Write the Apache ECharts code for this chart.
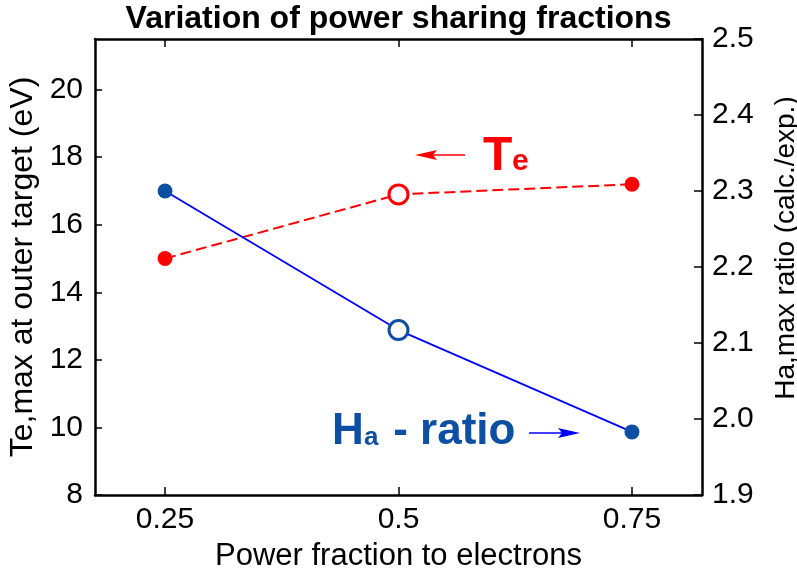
<!DOCTYPE html>
<html>
<head>
<meta charset="utf-8">
<script src="https://cdn.jsdelivr.net/npm/echarts@6/dist/echarts.min.js"></script>
<style>html,body{margin:0;padding:0;background:#fff}#c{width:797px;height:574px}</style>
</head>
<body>
<div id="c"></div>
<script>
const xValues = [0.25, 0.5, 0.75];
const teValues = [15.0, 16.9, 17.2];
const haValues = [2.30, 2.117, 1.983];
const xTicks = [0.25, 0.5, 0.75];
const leftTicks = [8, 10, 12, 14, 16, 18, 20];
const rightTicks = [1.9, 2.0, 2.1, 2.2, 2.3, 2.4, 2.5];
const hollowIndex = 1;

const RED = '#ff0000';
const BLUE_LINE = '#0000ff';
const BLUE_MARK = '#0d4fa3';
const FONT = 'Liberation Sans, Arial, sans-serif';

function pts(vals, color) {
  return xValues.map((x, i) => {
    const hollow = i === hollowIndex;
    return {
      value: [x, vals[i]],
      symbolSize: hollow ? 19 : 15,
      itemStyle: hollow
        ? { color: '#fff', borderColor: color, borderWidth: 3 }
        : { color: color, borderWidth: 0 }
    };
  });
}

const chart = echarts.init(document.getElementById('c'));
const axisLine = { show: true, lineStyle: { color: '#000', width: 2.5 } };
const tickStyle = { color: '#000', width: 1.5 };
chart.setOption({
  animation: false,
  title: {
    text: 'Variation of power sharing fractions',
    left: 'center', top: 3, padding: 0,
    textStyle: { fontFamily: FONT, fontWeight: 'bold', fontSize: 32, color: '#000' }
  },
  grid: { left: 95, right: 95, top: 39, bottom: 79, containLabel: false, outerBoundsMode: 'none' },
  xAxis: [{
    type: 'value', min: 0.175, max: 0.825, position: 'bottom',
    name: 'Power fraction to electrons', nameLocation: 'middle', nameGap: 46,
    nameTextStyle: { fontFamily: FONT, fontSize: 31, color: '#000' },
    axisLine: axisLine,
    axisTick: { show: true, inside: true, length: 8, customValues: xTicks, lineStyle: tickStyle },
    axisLabel: { customValues: xTicks, fontFamily: FONT, fontSize: 30, color: '#000', margin: 10 },
    splitLine: { show: false }
  }, {
    type: 'value', min: 0.175, max: 0.825, position: 'top',
    axisLine: axisLine,
    axisTick: { show: true, inside: true, length: 8, customValues: xTicks, lineStyle: tickStyle },
    axisLabel: { show: false },
    splitLine: { show: false }
  }],
  yAxis: [{
    type: 'value', min: 8, max: 21.5, position: 'left',
    name: 'Te,max at outer target (eV)', nameLocation: 'middle', nameGap: 53,
    nameTextStyle: { fontFamily: FONT, fontSize: 32, color: '#000' },
    axisLine: axisLine,
    axisTick: { show: true, inside: true, length: 7, customValues: leftTicks, lineStyle: tickStyle },
    axisLabel: { customValues: leftTicks, fontFamily: FONT, fontSize: 30, color: '#000', margin: 12 },
    splitLine: { show: false }
  }, {
    type: 'value', min: 1.9, max: 2.5, position: 'right',
    name: 'Ha,max ratio (calc./exp.)', nameLocation: 'middle', nameGap: 70, nameRotate: 90,
    nameTextStyle: { fontFamily: FONT, fontSize: 28, color: '#000', padding: [0, 0, 0, 38] },
    axisLine: axisLine,
    axisTick: { show: true, inside: true, length: 8, customValues: rightTicks, lineStyle: tickStyle },
    axisLabel: { customValues: rightTicks, fontFamily: FONT, fontSize: 30, color: '#000', margin: 10,
      formatter: v => v.toFixed(1) },
    splitLine: { show: false }
  }],
  series: [{
    type: 'line', xAxisIndex: 0, yAxisIndex: 0,
    data: pts(teValues, RED),
    symbol: 'circle',
    lineStyle: { color: RED, width: 2, type: [11, 5] },
    z: 3
  }, {
    type: 'line', xAxisIndex: 0, yAxisIndex: 1,
    data: pts(haValues, BLUE_MARK),
    symbol: 'circle',
    lineStyle: { color: BLUE_LINE, width: 1.8 },
    z: 3
  }],
  graphic: [
    { type: 'line', shape: { x1: 425, y1: 155, x2: 465, y2: 155 }, style: { stroke: RED, lineWidth: 1.5 } },
    { type: 'polygon', shape: { points: [[415, 155], [437, 150], [433, 155], [437, 160]] }, style: { fill: RED } },
    { type: 'text', x: 483, y: 181, style: { text: 'T', fontFamily: FONT, fontWeight: 'bold', fontSize: 48, fill: RED, verticalAlign: 'bottom' } },
    { type: 'text', x: 512, y: 177, style: { text: 'e', fontFamily: FONT, fontWeight: 'bold', fontSize: 30, fill: RED, verticalAlign: 'bottom' } },
    { type: 'text', x: 332, y: 454, style: { text: 'H', fontFamily: FONT, fontWeight: 'bold', fontSize: 44, fill: BLUE_MARK, verticalAlign: 'bottom' } },
    { type: 'text', x: 364, y: 451, style: { text: 'a', fontFamily: FONT, fontWeight: 'bold', fontSize: 26, fill: BLUE_MARK, verticalAlign: 'bottom' } },
    { type: 'text', x: 381, y: 454, style: { text: ' - ratio', fontFamily: FONT, fontWeight: 'bold', fontSize: 44, fill: BLUE_MARK, verticalAlign: 'bottom' } },
    { type: 'line', shape: { x1: 529, y1: 433, x2: 570, y2: 433 }, style: { stroke: BLUE_LINE, lineWidth: 1.5 } },
    { type: 'polygon', shape: { points: [[580, 433], [558, 428], [562, 433], [558, 438]] }, style: { fill: BLUE_LINE } }
  ]
});
</script>
</body>
</html>
